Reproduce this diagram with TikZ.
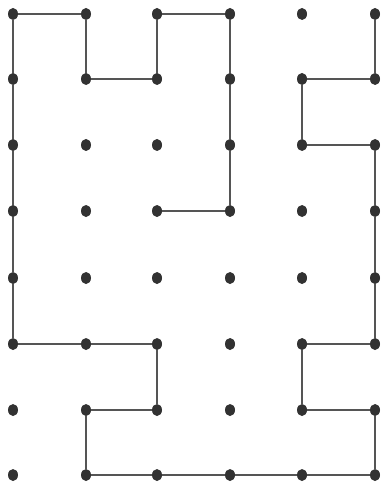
\documentclass[tikz,border=0pt]{standalone}
\usetikzlibrary{shapes.geometric}
\definecolor{dotgray}{RGB}{50,50,50}
\definecolor{linegray}{RGB}{85,85,85}

\begin{document}
\begin{tikzpicture}[x=1pt, y=-1pt]
	\useasboundingbox (0,0) rectangle (380,489);
	\foreach \c/\x in {0/13,1/86,2/157,3/230,4/302,5/375} {
		\foreach \r/\y in {0/14,1/79,2/145,3/211,4/278,5/344,6/410,7/475} {
			\node[ellipse, fill=dotgray, inner sep=0pt, minimum width=10pt, minimum height=12pt] (d\c\r) at (\x,\y) {};
		}
	}
	\draw[linegray, line width=1.3pt] (d00) -- (d10) -- (d11) -- (d21) -- (d20) -- (d30) -- (d31) -- (d32) -- (d33) -- (d23);
	\draw[linegray, line width=1.3pt] (d00) -- (d01) -- (d02) -- (d03) -- (d04) -- (d05) -- (d15) -- (d25) -- (d26) -- (d16) -- (d17) -- (d27) -- (d37) -- (d47) -- (d57) -- (d56) -- (d46) -- (d45) -- (d55) -- (d54) -- (d53) -- (d52) -- (d42) -- (d41) -- (d51) -- (d50);
\end{tikzpicture}
\end{document}
